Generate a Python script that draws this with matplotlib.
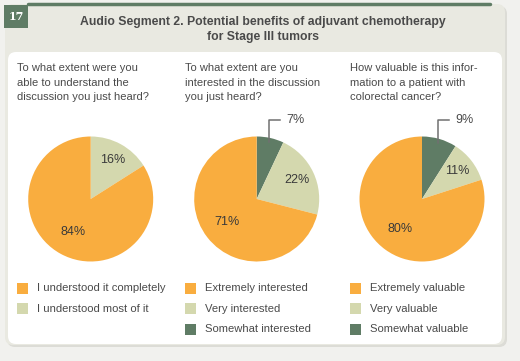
import numpy as np
import matplotlib
matplotlib.use('Agg')
import matplotlib.pyplot as plt
from matplotlib.patches import FancyBboxPatch, Rectangle

W, H = 520, 361

title_lines = ['Audio Segment 2. Potential benefits of adjuvant chemotherapy',
               'for Stage III tumors']
badge = '17'

questions = [
    ['To what extent were you', 'able to understand the', 'discussion you just heard?'],
    ['To what extent are you', 'interested in the discussion', 'you just heard?'],
    ['How valuable is this infor-', 'mation to a patient with', 'colorectal cancer?'],
]

# slices listed clockwise from 12 o'clock
pie_values = [
    [16, 84],
    [7, 22, 71],
    [9, 11, 80],
]
pie_kinds = [
    ['very', 'extreme'],
    ['somewhat', 'very', 'extreme'],
    ['somewhat', 'very', 'extreme'],
]
legend_labels = [
    ['I understood it completely', 'I understood most of it'],
    ['Extremely interested', 'Very interested', 'Somewhat interested'],
    ['Extremely valuable', 'Very valuable', 'Somewhat valuable'],
]
legend_kinds = [
    ['extreme', 'very'],
    ['extreme', 'very', 'somewhat'],
    ['extreme', 'very', 'somewhat'],
]

colors = {'extreme': '#f9ad3f', 'very': '#d4d8ae', 'somewhat': '#5f7c65'}
green = '#5f7c65'
text_c = '#4a4a4a'
font = 'Liberation Sans'

fig = plt.figure(figsize=(W / 100, H / 100), dpi=100)
fig.patch.set_facecolor('#f1f1ee')
bg = fig.add_axes([0, 0, 1, 1])
bg.set_xlim(0, W)
bg.set_ylim(H, 0)
bg.axis('off')

# panels
bg.add_patch(FancyBboxPatch((7, 6), 500, 341, boxstyle='round,pad=0,rounding_size=8',
                            fc='#dcdcd6', ec='none', zorder=0))
bg.add_patch(FancyBboxPatch((5, 4), 500, 341, boxstyle='round,pad=0,rounding_size=8',
                            fc='#e9e9e1', ec='none', zorder=1))
bg.add_patch(FancyBboxPatch((8, 52), 494, 292, boxstyle='round,pad=0,rounding_size=8',
                            fc='white', ec='none', zorder=2))
bg.plot([28, 490], [4, 4], color=green, lw=2.5, solid_capstyle='round', zorder=3)
bg.add_patch(Rectangle((4, 5), 24, 23, fc=green, ec='none', zorder=4))
bg.text(16, 16.5, badge, color='white', fontsize=8, fontweight='bold',
        family='DejaVu Serif', ha='center', va='center', zorder=5)

for i, line in enumerate(title_lines):
    bg.text(263, 22 + i * 15, line, color=text_c, fontsize=8.8, fontweight='bold',
            family=font, ha='center', va='center', zorder=5)

col_x = [17, 185, 350]
pie_cx = [90.7, 256.7, 422]
pie_cy = 199
R = 62.5

for c in range(3):
    for j, line in enumerate(questions[c]):
        bg.text(col_x[c], 68 + j * 14.5, line, color=text_c, fontsize=8.0,
                family=font, ha='left', va='center', zorder=5)

    ax = fig.add_axes([(pie_cx[c] - R) / W, 1 - (pie_cy + R) / H, 2 * R / W, 2 * R / H])
    vals = pie_values[c]
    cols = [colors[k] for k in pie_kinds[c]]
    ax.pie(vals, colors=cols, startangle=90, counterclock=False,
           wedgeprops=dict(linewidth=0))
    ax.set_xlim(-1, 1)
    ax.set_ylim(-1, 1)
    ax.set_aspect('auto')
    ax.axis('off')

    total = float(sum(vals))
    start = 0.0
    for v, k in zip(vals, pie_kinds[c]):
        mid = np.radians((start + v / 2) / total * 360)
        start += v
        label = '%d%%' % v
        if k == 'somewhat':
            x0, y0 = 0.93 * np.sin(mid), 0.93 * np.cos(mid)
            ax.plot([x0, x0, x0 + 0.17], [y0, 1.27, 1.27], color='#707070', lw=1.1,
                    clip_on=False)
            ax.text(x0 + 0.27, 1.27, label, color=text_c, fontsize=9, family=font,
                    ha='left', va='center', clip_on=False)
        else:
            d = 0.72 if v < 50 else 0.6
            ax.text(d * np.sin(mid), d * np.cos(mid), label, color='#3a3a3a',
                    fontsize=9, family=font, ha='center', va='center')

    for j, (lab, k) in enumerate(zip(legend_labels[c], legend_kinds[c])):
        y = 288 + j * 20.7
        bg.add_patch(Rectangle((col_x[c], y - 5.5), 11, 11, fc=colors[k], ec='none', zorder=5))
        bg.text(col_x[c] + 20, y, lab, color=text_c, fontsize=8.1, family=font,
                ha='left', va='center', zorder=5)

fig.savefig('out.png', dpi=100, facecolor=fig.get_facecolor())
